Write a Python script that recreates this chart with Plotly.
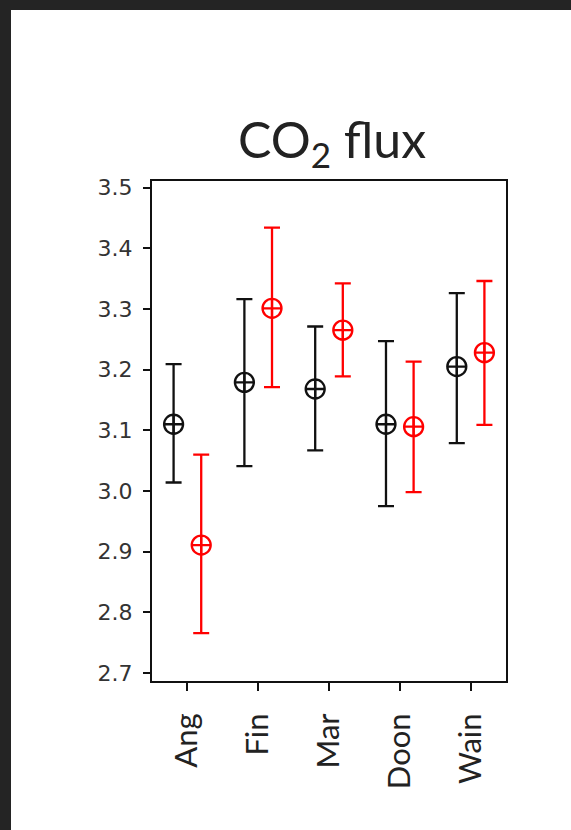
import plotly.graph_objects as go

# ---- data ----
categories = ["Ang", "Fin", "Mar", "Doon", "Wain"]

black_mean = [3.110, 3.179, 3.168, 3.110, 3.205]
black_upper = [3.209, 3.316, 3.271, 3.247, 3.326]
black_lower = [3.014, 3.041, 3.067, 2.975, 3.079]

red_mean = [2.911, 3.301, 3.265, 3.106, 3.228]
red_upper = [3.060, 3.434, 3.342, 3.213, 3.346]
red_lower = [2.766, 3.171, 3.189, 2.998, 3.109]

y_ticks = [2.7, 2.8, 2.9, 3.0, 3.1, 3.2, 3.3, 3.4, 3.5]

# ---- layout constants ----
W, H = 571, 830
ML, MR, MT, MB = 152, 65, 181, 149
OFFSET = 0.195

idx = list(range(len(categories)))


def series(mean, upper, lower, color, shift):
    return go.Scatter(
        x=[i + shift for i in idx],
        y=mean,
        mode="markers",
        marker=dict(symbol="circle-cross-open", size=19, color=color,
                    line=dict(width=2.3, color=color)),
        error_y=dict(type="data", symmetric=False,
                     array=[u - m for u, m in zip(upper, mean)],
                     arrayminus=[m - l for m, l in zip(mean, lower)],
                     color=color, thickness=2.3, width=8),
        showlegend=False,
        hoverinfo="skip",
    )


fig = go.Figure()
fig.add_trace(series(black_mean, black_upper, black_lower, "#111111", -OFFSET))
fig.add_trace(series(red_mean, red_upper, red_lower, "#ff0000", OFFSET))

pw = W - ML - MR
ph = H - MT - MB


def px_x(p):
    return (p - ML) / pw


def px_y(p):
    return (H - MB - p) / ph


frame = "#242424"
fig.add_shape(type="rect", xref="paper", yref="paper",
              x0=px_x(0), x1=px_x(11), y0=px_y(H), y1=px_y(0),
              fillcolor=frame, line=dict(width=0), layer="above")
fig.add_shape(type="rect", xref="paper", yref="paper",
              x0=px_x(0), x1=px_x(W), y0=px_y(10), y1=px_y(0),
              fillcolor=frame, line=dict(width=0), layer="above")

fig.update_layout(
    width=W, height=H,
    margin=dict(l=ML, r=MR, t=MT, b=MB),
    paper_bgcolor="white", plot_bgcolor="white",
    title=dict(text="CO<sub>2</sub> flux", x=(332) / W, xanchor="center",
               xref="container", yref="container", y=(H - 140) / H,
               yanchor="middle",
               font=dict(family="Lato", size=50, color="#222222")),
    xaxis=dict(range=[-0.5, 4.5], tickmode="array", tickvals=idx,
               ticktext=categories, tickangle=-90,
               ticks="outside", ticklen=8, tickwidth=2, tickcolor="#111",
               showline=True, linecolor="#111", linewidth=2, mirror=True,
               showgrid=False, zeroline=False, ticklabelstandoff=10,
               tickfont=dict(family="Lato", size=31, color="#222222")),
    yaxis=dict(range=[2.687, 3.5107], tickmode="array", tickvals=y_ticks,
               ticktext=[f"{v:.1f}" for v in y_ticks],
               ticks="outside", ticklen=7, tickwidth=2, tickcolor="#111",
               showline=True, linecolor="#111", linewidth=2, mirror=True,
               showgrid=False, zeroline=False, ticklabelstandoff=6,
               tickfont=dict(family="DejaVu Sans", size=22, color="#333333")),
)

fig.write_html("out.html")
